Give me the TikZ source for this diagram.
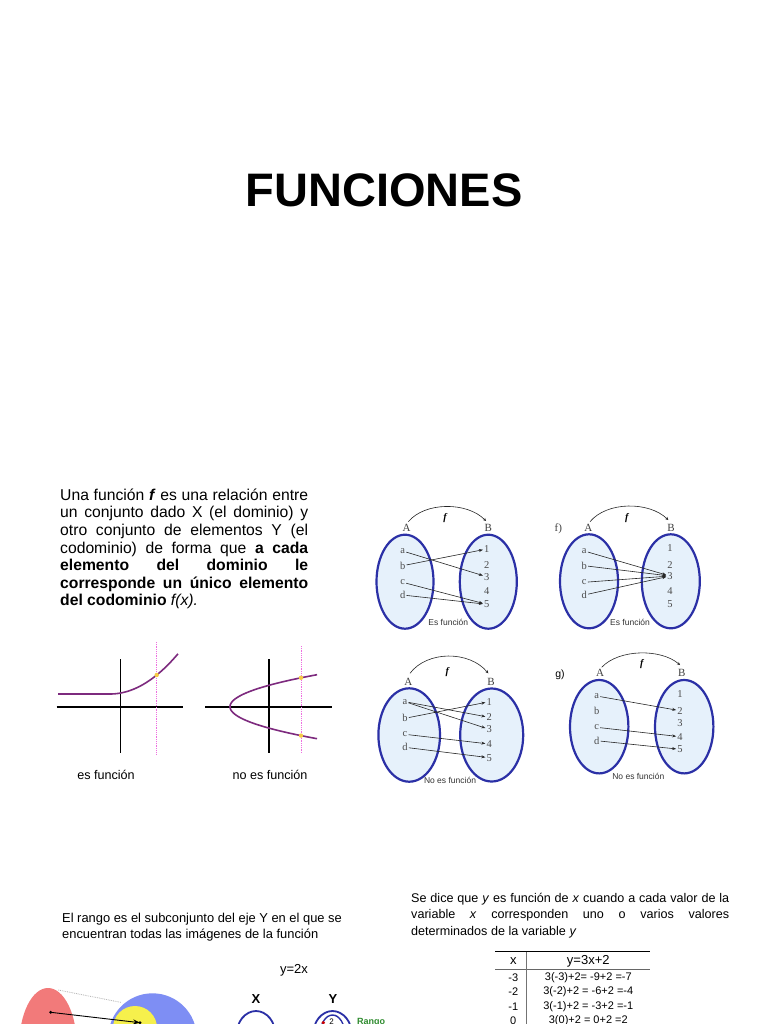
\documentclass[tikz,border=0pt]{standalone}
\usepackage{fontspec}
\setmainfont{Liberation Sans}
\newfontfamily\setfont{Liberation Serif}
\usetikzlibrary{arrows.meta}

\definecolor{setblue}{HTML}{2B30A6}
\definecolor{setfill}{HTML}{E6F1FB}
\definecolor{curvepurple}{HTML}{7D2A7E}
\definecolor{dotpink}{HTML}{EE6FE0}
\definecolor{dotyellow}{HTML}{F6C945}
\definecolor{rangogreen}{HTML}{2E8B2E}
\definecolor{vennred}{HTML}{F27A7A}
\definecolor{vennblue}{HTML}{7E8EF4}
\definecolor{vennyellow}{HTML}{F6F04C}

\tikzset{
  titulo/.style={font=\bfseries\fontsize{47}{47}\selectfont, inner sep=0pt},
  parrafo/.style={align=left, inner sep=0pt, font=\fontsize{15.7}{17.6}\selectfont},
  nota/.style={align=left, inner sep=0pt, font=\fontsize{12.6}{16.5}\selectfont},
  conjunto/.style={draw=setblue, fill=setfill, line width=2.2pt},
  elem/.style={font=\setfont\fontsize{10.5}{10.5}\selectfont, text=black!70, inner sep=1pt},
  setlab/.style={font=\setfont\fontsize{11}{11}\selectfont, text=black!75, inner sep=1pt},
  fsym/.style={font=\setfont\bfseries\itshape\fontsize{10}{10}\selectfont, inner sep=1pt},
  pie/.style={font=\fontsize{8.5}{9}\selectfont, text=black!80, inner sep=1pt},
  map/.style={-{Stealth[length=4pt,width=3pt]}, line width=0.6pt, black!85},
  farc/.style={-{Stealth[length=3pt,width=3pt]}, line width=0.6pt, black!85},
  eje/.style={line width=1.6pt, black},
  curva/.style={line width=1.6pt, curvepurple},
  vertical/.style={line width=0.8pt, dotpink, densely dotted},
  glabel/.style={font=\fontsize{12.6}{12.6}\selectfont, inner sep=0pt},
  tabla/.style={font=\fontsize{11}{11}\selectfont, inner sep=0pt},
  tablahead/.style={font=\fontsize{13}{13}\selectfont, inner sep=0pt},
}

\begin{document}
\begin{tikzpicture}[x=1pt, y=-1pt]
\useasboundingbox (0,0) rectangle (768,1024);
\fill[white] (0,0) rectangle (768,1024);

\node[titulo] (titulo) at (384,190) {FUNCIONES};

\node[parrafo, anchor=north west] (definicion) at (60,488.5) {%
  \makebox[248pt][s]{Una función \textbf{\textit{f}} es una relación entre}\\
  \makebox[248pt][s]{un conjunto dado X (el dominio) y}\\
  \makebox[248pt][s]{otro conjunto de elementos Y (el}\\
  \makebox[248pt][s]{codominio) de forma que \textbf{a cada}}\\
  \makebox[248pt][s]{\textbf{elemento del dominio le}}\\
  \makebox[248pt][s]{\textbf{corresponde un único elemento}}\\
  \textbf{del codominio} \textit{f(x).}};

% graficas
\begin{scope}
  \draw[eje] (56.7,706.7) -- (183,706.7);
  \draw[eje] (120.3,659) -- (120.3,753);
  \draw[vertical] (156.7,642) -- (156.7,755);
  \draw[curva] plot[domain=58:178, samples=60] (\x,{694-0.0087*(max(\x-110,0))^2});
  \fill[dotyellow] (156.7,675) circle (2.2);
  \node[glabel] (esfun) at (106,775) {es función};
\end{scope}

\begin{scope}
  \draw[eje] (205,706.7) -- (331.7,706.7);
  \draw[eje] (269,659) -- (269,753);
  \draw[vertical] (301,646) -- (301,753);
  \draw[curva] plot[domain=-32:32, samples=60] ({230+0.085*\x*\x},{706.7+\x});
  \fill[dotyellow] (301,677.8) circle (2.2);
  \fill[dotyellow] (301,735.6) circle (2.2);
  \node[glabel] (noesfun) at (270,775) {no es función};
\end{scope}

% diagrama 1
\begin{scope}[shift={(405,581.7)}]
  \draw[conjunto] (0,0) ellipse [x radius=28.5, y radius=47];
  \draw[conjunto] (83.3,0) ellipse [x radius=28.5, y radius=47];
  \node[setlab] (A1) at (1.7,-53.4) {A};
  \node[setlab] (B1) at (83.3,-53.4) {B};
  \coordinate (fs1) at (3.3,-60);
  \coordinate (fe1) at (81,-60.7);
  \draw[farc] (fs1) .. controls (20,-80) and (62,-80) .. (fe1);
  \node[fsym] (f1) at (40,-63.4) {f};
  \node[elem] (a1) at (-2.3,-30.7) {a};
  \node[elem] (b1) at (-2.3,-16) {b};
  \node[elem] (c1) at (-2.3,0.6) {c};
  \node[elem] (d1) at (-2.3,13.3) {d};
  \node[elem] (n11) at (81.7,-32.7) {1};
  \node[elem] (n12) at (81.7,-16.7) {2};
  \node[elem] (n13) at (81.7,-5) {3};
  \node[elem] (n14) at (81.7,9.3) {4};
  \node[elem] (n15) at (81.7,22.6) {5};
  \draw[map] (a1) -- (n13);
  \draw[map] (b1) -- (n11);
  \draw[map] (c1) -- (n15);
  \draw[map] (d1) -- (n15);
  \node[pie] (pie1) at (43.3,41) {Es función};
\end{scope}

% diagrama 2
\begin{scope}[shift={(589,581.3)}]
  \draw[conjunto] (0,0) ellipse [x radius=29, y radius=47];
  \draw[conjunto] (81.8,0) ellipse [x radius=29, y radius=47];
  \node[setlab] (inc2) at (-30.7,-53) {f)};
  \node[setlab] (A2) at (-0.7,-53) {A};
  \node[setlab] (B2) at (82,-53) {B};
  \coordinate (fs2) at (1,-59.6);
  \coordinate (fe2) at (79.3,-61.3);
  \draw[farc] (fs2) .. controls (18,-80) and (60,-80) .. (fe2);
  \node[fsym] (f2) at (37.7,-63) {f};
  \node[elem] (a2) at (-4.7,-30.3) {a};
  \node[elem] (b2) at (-4.7,-15.6) {b};
  \node[elem] (c2) at (-4.7,1) {c};
  \node[elem] (d2) at (-4.7,13.7) {d};
  \node[elem] (n21) at (81,-33) {1};
  \node[elem] (n22) at (81,-16.3) {2};
  \node[elem] (n23) at (81,-5.3) {3};
  \node[elem] (n24) at (81,9.7) {4};
  \node[elem] (n25) at (81,23) {5};
  \draw[map] (a2) -- (n23);
  \draw[map] (b2) -- (n23);
  \draw[map] (c2) -- (n23);
  \draw[map] (d2) -- (n23);
  \node[pie] (pie2) at (41,41) {Es función};
\end{scope}

% diagrama 3
\begin{scope}[shift={(409.2,735)}]
  \draw[conjunto] (0,0) ellipse [x radius=30.8, y radius=46.7];
  \draw[conjunto] (82.5,0) ellipse [x radius=31.5, y radius=46.5];
  \node[setlab] (A3) at (-0.9,-53.3) {A};
  \node[setlab] (B3) at (81.8,-53.3) {B};
  \coordinate (fs3) at (0.8,-61.7);
  \coordinate (fe3) at (79.1,-61.7);
  \draw[farc] (fs3) .. controls (18,-84.5) and (60,-84.5) .. (fe3);
  \node[fsym] (f3) at (38.1,-63.3) {f};
  \node[elem] (a3) at (-4.2,-33.3) {a};
  \node[elem] (b3) at (-4.2,-16.7) {b};
  \node[elem] (c3) at (-4.2,-0.7) {c};
  \node[elem] (d3) at (-4.2,12.3) {d};
  \node[elem] (n31) at (80,-33.3) {1};
  \node[elem] (n32) at (80,-17.7) {2};
  \node[elem] (n33) at (80,-5.7) {3};
  \node[elem] (n34) at (80,9) {4};
  \node[elem] (n35) at (80,22.7) {5};
  \draw[map] (a3) -- (n32);
  \draw[map] (a3) -- (n33);
  \draw[map] (b3) -- (n31);
  \draw[map] (c3) -- (n34);
  \draw[map] (d3) -- (n35);
  \node[pie] (pie3) at (40.8,45.7) {No es función};
\end{scope}

% diagrama 4
\begin{scope}[shift={(599.2,726.7)}]
  \draw[conjunto] (0,0) ellipse [x radius=29.2, y radius=46.7];
  \draw[conjunto] (85,0) ellipse [x radius=29.2, y radius=46.7];
  \node[font=\fontsize{10.5}{11}\selectfont, inner sep=1pt] (inc4) at (-39.2,-51.7) {g)};
  \node[setlab] (A4) at (0.8,-53.4) {A};
  \node[setlab] (B4) at (82.5,-53.4) {B};
  \coordinate (fs4) at (2.5,-59.4);
  \coordinate (fe4) at (80.8,-61.7);
  \draw[farc] (fs4) .. controls (20,-78) and (62,-78) .. (fe4);
  \node[fsym] (f4) at (42.5,-62.7) {f};
  \node[elem] (a4) at (-2.5,-30.7) {a};
  \node[elem] (b4) at (-2.5,-16) {b};
  \node[elem] (c4) at (-2.5,0.6) {c};
  \node[elem] (d4) at (-2.5,14) {d};
  \node[elem] (n41) at (80.8,-32.7) {1};
  \node[elem] (n42) at (80.8,-16) {2};
  \node[elem] (n43) at (80.8,-4) {3};
  \node[elem] (n44) at (80.8,10) {4};
  \node[elem] (n45) at (80.8,22.6) {5};
  \draw[map] (a4) -- (n42);
  \draw[map] (c4) -- (n44);
  \draw[map] (d4) -- (n45);
  \node[pie] (pie4) at (39.1,50) {No es función};
\end{scope}

% rango
\node[align=left, inner sep=0pt, font=\fontsize{12.9}{16}\selectfont, anchor=north west] (rango) at (62,913)
  {El rango es el subconjunto del eje Y en el que se\\encuentran todas las imágenes de la función};

\fill[vennred] (48,1045) ellipse [x radius=28.7, y radius=57];
\fill[vennblue] (152.5,1037.5) circle (44.2);
\fill[vennyellow] (135,1028) circle (22);
\draw[black!30, densely dotted, line width=0.8pt] (58.3,990) -- (121.7,1002.5);
\coordinate (pre) at (50.7,1012.3);
\coordinate (img) at (140,1022.7);
\fill (pre) circle (1.6);
\fill (img) circle (1.6);
\draw[-{Stealth[length=7pt,width=5pt]}, line width=0.9pt] (pre) -- (img);

\node[font=\fontsize{13}{13}\selectfont, inner sep=0pt] (ecuacion) at (294,970) {y=2x};
\node[font=\bfseries\fontsize{13}{13}\selectfont, inner sep=0pt] (X) at (256,999) {X};
\node[font=\bfseries\fontsize{13}{13}\selectfont, inner sep=0pt] (Y) at (333,999) {Y};
\draw[setblue, line width=1.8pt] (256,1035) ellipse [x radius=19.5, y radius=24];
\draw[setblue, line width=1.8pt] (332.5,1035) ellipse [x radius=19.5, y radius=24];
\draw[setblue, line width=1.4pt] (332.5,1035) ellipse [x radius=12.5, y radius=20];
\fill[red!80!black] (323.3,1022.7) circle (1.8);
\node[font=\fontsize{8}{8}\selectfont, inner sep=0pt] (dos) at (331.7,1022) {2};
\node[font=\bfseries\fontsize{9}{9}\selectfont, text=rangogreen, inner sep=0pt, anchor=north west] (rangolab) at (357,1018) {Rango};

% funcion de x
\node[nota, anchor=north west] (sedice) at (411,893) {%
  \makebox[318pt][s]{Se dice que \textit{y} es función de \textit{x} cuando a cada valor de la}\\
  \makebox[318pt][s]{variable \textit{x} corresponden uno o varios valores}\\
  determinados de la variable \textit{y}};

% tabla
\draw[line width=0.9pt] (495,951.7) -- (650,951.7);
\draw[black!60, line width=0.5pt] (495,969.3) -- (650,969.3);
\draw[black!55, line width=1.5pt] (526.7,951.7) -- (526.7,1030);
\node[tablahead] (hx) at (513.3,961) {x};
\node[tablahead] (hy) at (588.3,961) {y=3x+2};
\node[tabla] (x1) at (513.3,977.3) {-3};
\node[tabla] (y1) at (588.3,977.3) {3(-3)+2= -9+2 =-7};
\node[tabla] (x2) at (513.3,991.8) {-2};
\node[tabla] (y2) at (588.3,991.8) {3(-2)+2 = -6+2 =-4};
\node[tabla] (x3) at (513.3,1006.3) {-1};
\node[tabla] (y3) at (588.3,1006.3) {3(-1)+2 = -3+2 =-1};
\node[tabla] (x4) at (513.3,1020.8) {0};
\node[tabla] (y4) at (588.3,1020.8) {3(0)+2 = 0+2 =2};
\end{tikzpicture}
\end{document}
